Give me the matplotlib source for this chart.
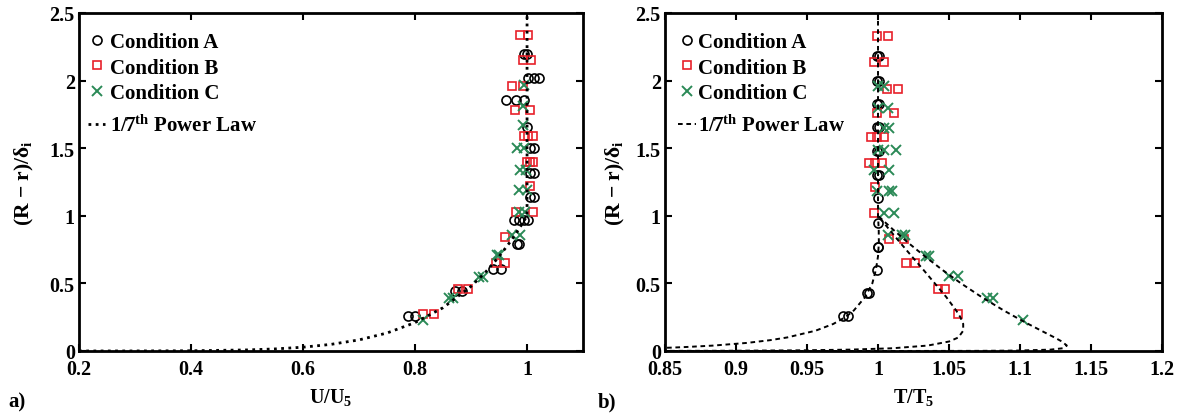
import matplotlib
matplotlib.use("Agg")
import matplotlib.pyplot as plt
from matplotlib.ticker import FuncFormatter

plt.rcParams['font.family'] = ['Liberation Serif', 'DejaVu Serif']
plt.rcParams['font.weight'] = 'bold'
plt.rcParams['mathtext.fontset'] = 'custom'
plt.rcParams['mathtext.rm'] = 'Liberation Serif:bold'
plt.rcParams['mathtext.it'] = 'Liberation Serif:bold'
plt.rcParams['mathtext.bf'] = 'Liberation Serif:bold'
plt.rcParams['mathtext.default'] = 'rm'

# ---------------- Panel a) velocity ----------------
a_U_A = [0.994, 1.000, 1.002, 1.013, 1.022, 0.963, 0.980, 0.995, 1.000, 1.005, 1.012,
         1.005, 1.012, 1.006, 1.013, 0.976, 0.985, 0.994, 1.002, 0.982, 0.986,
         0.939, 0.953, 0.872, 0.883, 0.788, 0.800]
a_y_A = [2.20, 2.20, 2.02, 2.02, 2.02, 1.86, 1.86, 1.86, 1.66, 1.50, 1.50,
         1.32, 1.32, 1.14, 1.14, 0.97, 0.97, 0.97, 0.97, 0.79, 0.79,
         0.61, 0.61, 0.44, 0.44, 0.26, 0.26]

a_U_B = [0.987, 1.001, 0.993, 1.007, 0.973, 0.993, 0.978, 1.005, 0.995, 1.002, 1.010,
         1.000, 1.005, 1.010, 1.005, 0.980, 1.010, 0.961, 0.945, 0.960,
         0.876, 0.895, 0.815, 0.834]
a_y_B = [2.34, 2.34, 2.15, 2.15, 1.96, 1.96, 1.78, 1.78, 1.59, 1.59, 1.59,
         1.40, 1.40, 1.40, 1.22, 1.03, 1.03, 0.84, 0.65, 0.65,
         0.46, 0.46, 0.27, 0.27]

a_U_C = [0.995, 0.993, 0.993, 0.982, 0.994, 0.988, 0.998, 0.985, 1.000, 0.985, 0.997,
         0.973, 0.988, 0.946, 0.950, 0.915, 0.922, 0.860, 0.868, 0.815]
a_y_C = [1.97, 1.81, 1.67, 1.50, 1.50, 1.34, 1.34, 1.19, 1.19, 1.03, 1.03,
         0.86, 0.86, 0.71, 0.71, 0.55, 0.55, 0.39, 0.39, 0.23]

a_U_law = [0.20, 0.30, 0.40, 0.50, 0.55, 0.60, 0.65, 0.70, 0.75, 0.80, 0.85,
           0.90, 0.925, 0.95, 0.97, 0.98, 0.99, 1.00, 1.00]
a_y_law = [0.0000, 0.0002, 0.0016, 0.0078, 0.0152, 0.028, 0.049, 0.082, 0.133, 0.210, 0.320,
           0.478, 0.579, 0.698, 0.808, 0.868, 0.932, 1.000, 2.500]

# ---------------- Panel b) temperature ----------------
b_T_A = [0.9995, 1.0005, 0.9995, 1.0005, 0.9995, 1.0005, 0.9995, 1.0005, 0.9995, 1.0005,
         0.9995, 1.0005, 1.000, 1.000, 1.000, 1.000, 0.9995, 0.992, 0.9935, 0.975, 0.979]
b_y_A = [2.18, 2.18, 2.00, 2.00, 1.83, 1.83, 1.66, 1.66, 1.48, 1.48,
         1.30, 1.30, 1.13, 0.95, 0.77, 0.77, 0.60, 0.43, 0.43, 0.26, 0.26]

b_T_B = [0.999, 1.007, 0.997, 1.004, 1.006, 1.014, 0.999, 1.011, 0.995, 0.999, 1.004,
         0.994, 0.998, 1.003, 0.998, 0.997, 1.0075, 1.0185, 1.020, 1.026,
         1.042, 1.047, 1.056]
b_y_B = [2.33, 2.33, 2.14, 2.14, 1.94, 1.94, 1.76, 1.76, 1.58, 1.58, 1.58,
         1.39, 1.39, 1.39, 1.21, 1.02, 0.83, 0.83, 0.65, 0.65,
         0.46, 0.46, 0.27]

b_T_C = [1.000, 1.004, 1.000, 1.007, 1.004, 1.008, 1.000, 1.004, 1.013, 0.997, 1.008,
         0.999, 1.008, 1.010, 1.004, 1.011, 1.007, 1.017, 1.019, 1.034, 1.036,
         1.050, 1.056, 1.077, 1.081, 1.102]
b_y_C = [1.96, 1.96, 1.80, 1.80, 1.65, 1.65, 1.49, 1.49, 1.49, 1.34, 1.34,
         1.18, 1.18, 1.18, 1.02, 1.02, 0.855, 0.855, 0.855, 0.70, 0.70,
         0.555, 0.555, 0.39, 0.39, 0.23]

b_T_lawA = [0.822, 0.855, 0.866, 0.884, 0.908, 0.924, 0.936, 0.956, 0.9685, 0.977,
            0.983, 0.991, 0.996, 0.9985, 1.000, 1.0006, 1.0005, 1.000, 1.000]
b_y_lawA = [0.015, 0.025, 0.030, 0.040, 0.060, 0.080, 0.100, 0.150, 0.200, 0.250,
            0.300, 0.400, 0.500, 0.600, 0.700, 0.800, 0.900, 1.000, 2.500]

b_T_lawB = [0.830, 0.847, 0.901, 0.947, 0.980, 1.010, 1.035, 1.050, 1.0566, 1.060, 1.060,
            1.058, 1.055, 1.048, 1.040, 1.032, 1.0238, 1.0157, 1.0078, 1.000]
b_y_lawB = [0.0005, 0.0007, 0.002, 0.005, 0.010, 0.020, 0.040, 0.070, 0.100, 0.150, 0.200,
            0.250, 0.300, 0.400, 0.500, 0.600, 0.700, 0.800, 0.900, 1.000]

b_T_lawC = [0.850, 0.907, 0.954, 1.011, 1.0716, 1.098, 1.1215, 1.130, 1.133, 1.1295, 1.1243,
            1.115, 1.1058, 1.097, 1.0885, 1.0728, 1.0585, 1.0453, 1.033, 1.0213, 1.0104, 1.000]
b_y_lawC = [0.0, 0.000001, 0.00001, 0.0001, 0.001, 0.003, 0.010, 0.020, 0.040, 0.070, 0.100,
            0.150, 0.200, 0.250, 0.300, 0.400, 0.500, 0.600, 0.700, 0.800, 0.900, 1.000]

cond_labels = ['Condition A', 'Condition B', 'Condition C']
law_label = r'1/7$^{\rm th}$ Power Law'
a_xticks = [0.2, 0.4, 0.6, 0.8, 1.0]
b_xticks = [0.85, 0.9, 0.95, 1.0, 1.05, 1.1, 1.15, 1.2]
yticks = [0, 0.5, 1, 1.5, 2, 2.5]

RED = '#e8202a'
GREEN = '#2b8a57'
FS = 14.5

fig = plt.figure(figsize=(11.81, 4.14), dpi=100)
axa = fig.add_axes([0.0669, 0.1498, 0.4268, 0.8164])
axb = fig.add_axes([0.5631, 0.1498, 0.4208, 0.8164])

fmt = FuncFormatter(lambda v, p: '%g' % v)

def style(ax, xlim, xticks, xlabel, ypad):
    ax.set_xlim(*xlim)
    ax.set_ylim(0, 2.5)
    ax.set_xticks(xticks)
    ax.set_yticks(yticks)
    ax.xaxis.set_major_formatter(fmt)
    ax.yaxis.set_major_formatter(fmt)
    ax.tick_params(direction='in', top=True, right=True, length=5, width=1.5,
                   labelsize=FS, pad=3)
    ax.tick_params(axis='x', pad=6)
    for s in ax.spines.values():
        s.set_linewidth(2)
    ax.set_xlabel(xlabel, fontsize=FS, fontweight='bold', labelpad=5)
    ax.set_ylabel('(R \u2212 r)/\u03b4$_{\\rm i}$', fontsize=FS + 1, fontweight='bold', labelpad=ypad)

def legends(ax, handles, law_handle, x0, hl, tp):
    common = dict(frameon=False, fontsize=FS + 0.5, handlelength=hl, handletextpad=tp,
                  borderaxespad=0, borderpad=0, numpoints=1)
    leg1 = ax.legend(handles, cond_labels, loc='center left', bbox_to_anchor=(x0, 0.838),
                     labelspacing=0.26, **common)
    ax.add_artist(leg1)
    ax.legend([law_handle], [law_label], loc='center left', bbox_to_anchor=(x0, 0.667), **common)

mk = dict(linestyle='none', markerfacecolor='none')

# panel a
ha, = axa.plot(a_U_A, a_y_A, marker='o', markersize=6.5, markeredgecolor='black', markeredgewidth=1.2, **mk)
hb, = axa.plot(a_U_B, a_y_B, marker='s', markersize=5.5, markeredgecolor=RED, markeredgewidth=1.2, **mk)
hc, = axa.plot(a_U_C, a_y_C, marker='x', markersize=6.5, markeredgecolor=GREEN, markeredgewidth=1.4, linestyle='none')
hl, = axa.plot(a_U_law, a_y_law, color='black', linewidth=2.0, linestyle=(0, (1.0, 1.6)))
style(axa, (0.2, 1.1), a_xticks, 'U/U$_5$', 10)
legends(axa, [ha, hb, hc], hl, 0.018, 0.82, 0.24)

# panel b
hA, = axb.plot(b_T_A, b_y_A, marker='o', markersize=6.5, markeredgecolor='black', markeredgewidth=1.2, **mk)
hB, = axb.plot(b_T_B, b_y_B, marker='s', markersize=5.5, markeredgecolor=RED, markeredgewidth=1.2, **mk)
hC, = axb.plot(b_T_C, b_y_C, marker='x', markersize=6.5, markeredgecolor=GREEN, markeredgewidth=1.4, linestyle='none')
dash = (0, (2.4, 1.9))
hL, = axb.plot(b_T_lawA, b_y_lawA, color='black', linewidth=1.4, linestyle=dash)
axb.plot(b_T_lawB, b_y_lawB, color='black', linewidth=1.4, linestyle=dash)
axb.plot(b_T_lawC, b_y_lawC, color='black', linewidth=1.4, linestyle=dash)
style(axb, (0.85, 1.2), b_xticks, 'T/T$_5$', 6)
legends(axb, [hA, hB, hC], hL, 0.026, 0.85, 0.1)

fig.text(0.007, 0.027, 'a)', fontsize=FS + 0.5, fontweight='bold', va='center')
fig.text(0.506, 0.027, 'b)', fontsize=FS + 0.5, fontweight='bold', va='center')

fig.savefig('out.png', dpi=100)
